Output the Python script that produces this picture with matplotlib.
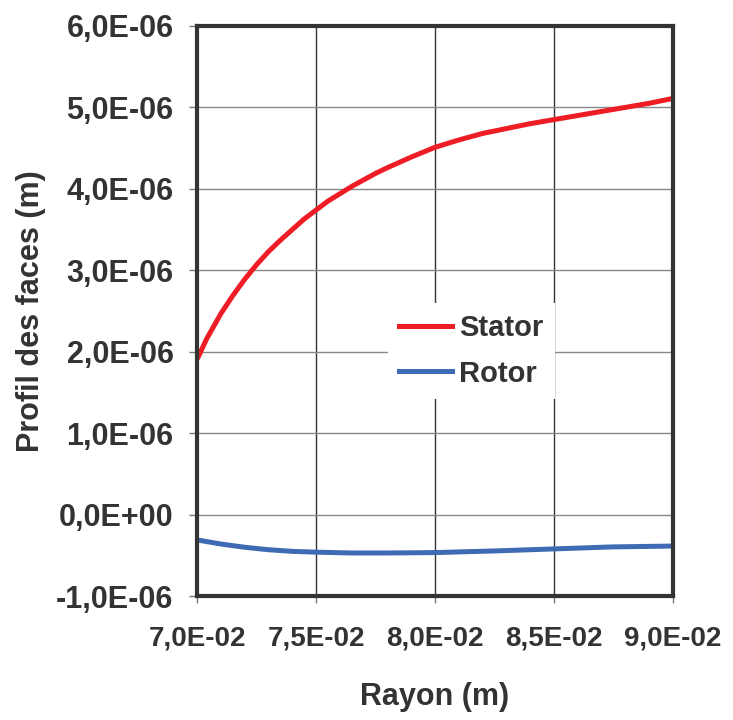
import matplotlib.pyplot as plt

plt.rcParams['font.family'] = ['Liberation Sans', 'DejaVu Sans']
plt.rcParams['font.weight'] = 'bold'

# data
rayon_s = [0.07005, 0.0704, 0.0710, 0.0715, 0.0720, 0.0725, 0.0730, 0.0735, 0.0740,
           0.0745, 0.0750, 0.0755, 0.0760, 0.0765, 0.0770, 0.0775, 0.0780, 0.0790,
           0.0800, 0.0810, 0.0820, 0.0830, 0.0840, 0.0850, 0.0860, 0.0870, 0.0880,
           0.0890, 0.0900]
stator = [1.94e-6, 2.16e-6, 2.47e-6, 2.69e-6, 2.89e-6, 3.07e-6, 3.23e-6, 3.37e-6, 3.50e-6,
          3.63e-6, 3.74e-6, 3.85e-6, 3.94e-6, 4.03e-6, 4.11e-6, 4.19e-6, 4.26e-6, 4.39e-6,
          4.51e-6, 4.60e-6, 4.68e-6, 4.74e-6, 4.80e-6, 4.85e-6, 4.90e-6, 4.95e-6, 5.00e-6,
          5.05e-6, 5.11e-6]
rayon_r = [0.0700, 0.0710, 0.0720, 0.0730, 0.0740, 0.0750, 0.0765, 0.0780, 0.0800,
           0.0825, 0.0850, 0.0875, 0.0900]
rotor = [-0.31e-6, -0.36e-6, -0.40e-6, -0.43e-6, -0.45e-6, -0.46e-6, -0.47e-6, -0.47e-6,
         -0.465e-6, -0.445e-6, -0.42e-6, -0.395e-6, -0.385e-6]

xticks = [0.070, 0.075, 0.080, 0.085, 0.090]
yticks = [-1e-6, 0, 1e-6, 2e-6, 3e-6, 4e-6, 5e-6, 6e-6]
xlabels = ["7,0E-02", "7,5E-02", "8,0E-02", "8,5E-02", "9,0E-02"]
ylabels = ["-1,0E-06", "0,0E+00", "1,0E-06", "2,0E-06", "3,0E-06", "4,0E-06", "5,0E-06", "6,0E-06"]

txt = '#333333'
fig = plt.figure(figsize=(7.33, 7.2), dpi=100)
ax = fig.add_axes([0.269, 0.172, 0.649, 0.792])

ax.plot(rayon_s, stator, color='#ee1c25', lw=3.6, label='Stator')
ax.plot(rayon_r, rotor, color='#3f6bb5', lw=3.6, label='Rotor')

ax.set_xlim(0.070, 0.090)
ax.set_ylim(-1e-6, 6e-6)
ax.set_xticks(xticks)
ax.set_xticklabels(xlabels)
ax.set_yticks(yticks)
ax.set_yticklabels(ylabels)
ax.tick_params(axis='y', labelsize=22, colors=txt, length=6, width=1, pad=11)
ax.tick_params(axis='x', labelsize=20, colors=txt, length=5, width=1, pad=16)
ax.tick_params(color='#777777')
ax.xaxis.grid(True, color='#333333', lw=1)
ax.yaxis.grid(True, color='#888888', lw=1)
ax.set_axisbelow(True)
for s in ax.spines.values():
    s.set_linewidth(3)
    s.set_color('#333333')

ax.set_xlabel("Rayon (m)", fontsize=22, color=txt, labelpad=22, weight='bold')
ax.set_ylabel("Profil des faces (m)", fontsize=22, color=txt, labelpad=7, weight='bold')

leg = ax.legend(loc='center', bbox_to_anchor=(0.576, 0.43), fontsize=21,
                frameon=True, fancybox=False, handlelength=1.8, labelspacing=0.6,
                borderpad=0.4, handletextpad=0.25)
leg.get_frame().set_edgecolor('none')
leg.get_frame().set_facecolor('white')
leg.get_frame().set_alpha(1)
for t in leg.get_texts():
    t.set_color(txt)

fig.savefig('out.png', dpi=100)
